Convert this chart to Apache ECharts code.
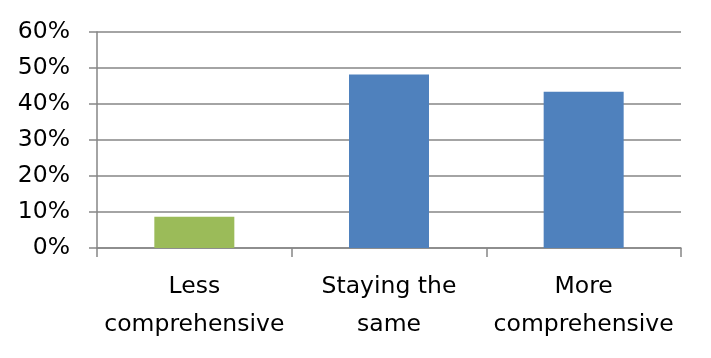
<!DOCTYPE html>
<html>
<head>
<meta charset="utf-8">
<script src="https://cdn.jsdelivr.net/npm/echarts@6/dist/echarts.min.js"></script>
<style>
html,body{margin:0;padding:0;background:#fff;}
#chart{width:711px;height:358px;}
</style>
</head>
<body>
<div id="chart"></div>
<script>
const categories = ["Less\ncomprehensive", "Staying the\nsame", "More\ncomprehensive"];
const values = [8.7, 48.2, 43.4];
const barColors = ["#9BBB59", "#4F81BD", "#4F81BD"];
const yMin = 0, yMax = 60, yInterval = 10;

const chart = echarts.init(document.getElementById('chart'), null, {renderer: 'canvas'});
const axisColor = '#868686';
chart.setOption({
  animation: false,
  backgroundColor: '#fff',
  grid: {left: 97, right: 30, top: 32, bottom: 110, containLabel: false},
  xAxis: {
    type: 'category',
    data: categories,
    axisLine: {lineStyle: {color: axisColor, width: 1.5}},
    axisTick: {show: true, length: 9, alignWithLabel: false, lineStyle: {color: axisColor, width: 1.5}},
    axisLabel: {
      color: '#000', fontFamily: 'DejaVu Sans', fontSize: 23.5, lineHeight: 38,
      margin: 20, interval: 0
    }
  },
  yAxis: {
    type: 'value',
    min: yMin, max: yMax, interval: yInterval,
    axisLine: {show: true, lineStyle: {color: axisColor, width: 1.5}},
    axisTick: {show: true, length: 8, lineStyle: {color: axisColor, width: 1.5}},
    splitLine: {show: true, lineStyle: {color: axisColor, width: 1.5}},
    axisLabel: {
      color: '#000', fontFamily: 'DejaVu Sans', fontSize: 23.5, margin: 27,
      formatter: v => v + '%'
    }
  },
  series: [{
    type: 'bar',
    data: values.map((v, i) => ({value: v, itemStyle: {color: barColors[i]}})),
    barWidth: 80
  }]
});
</script>
</body>
</html>
